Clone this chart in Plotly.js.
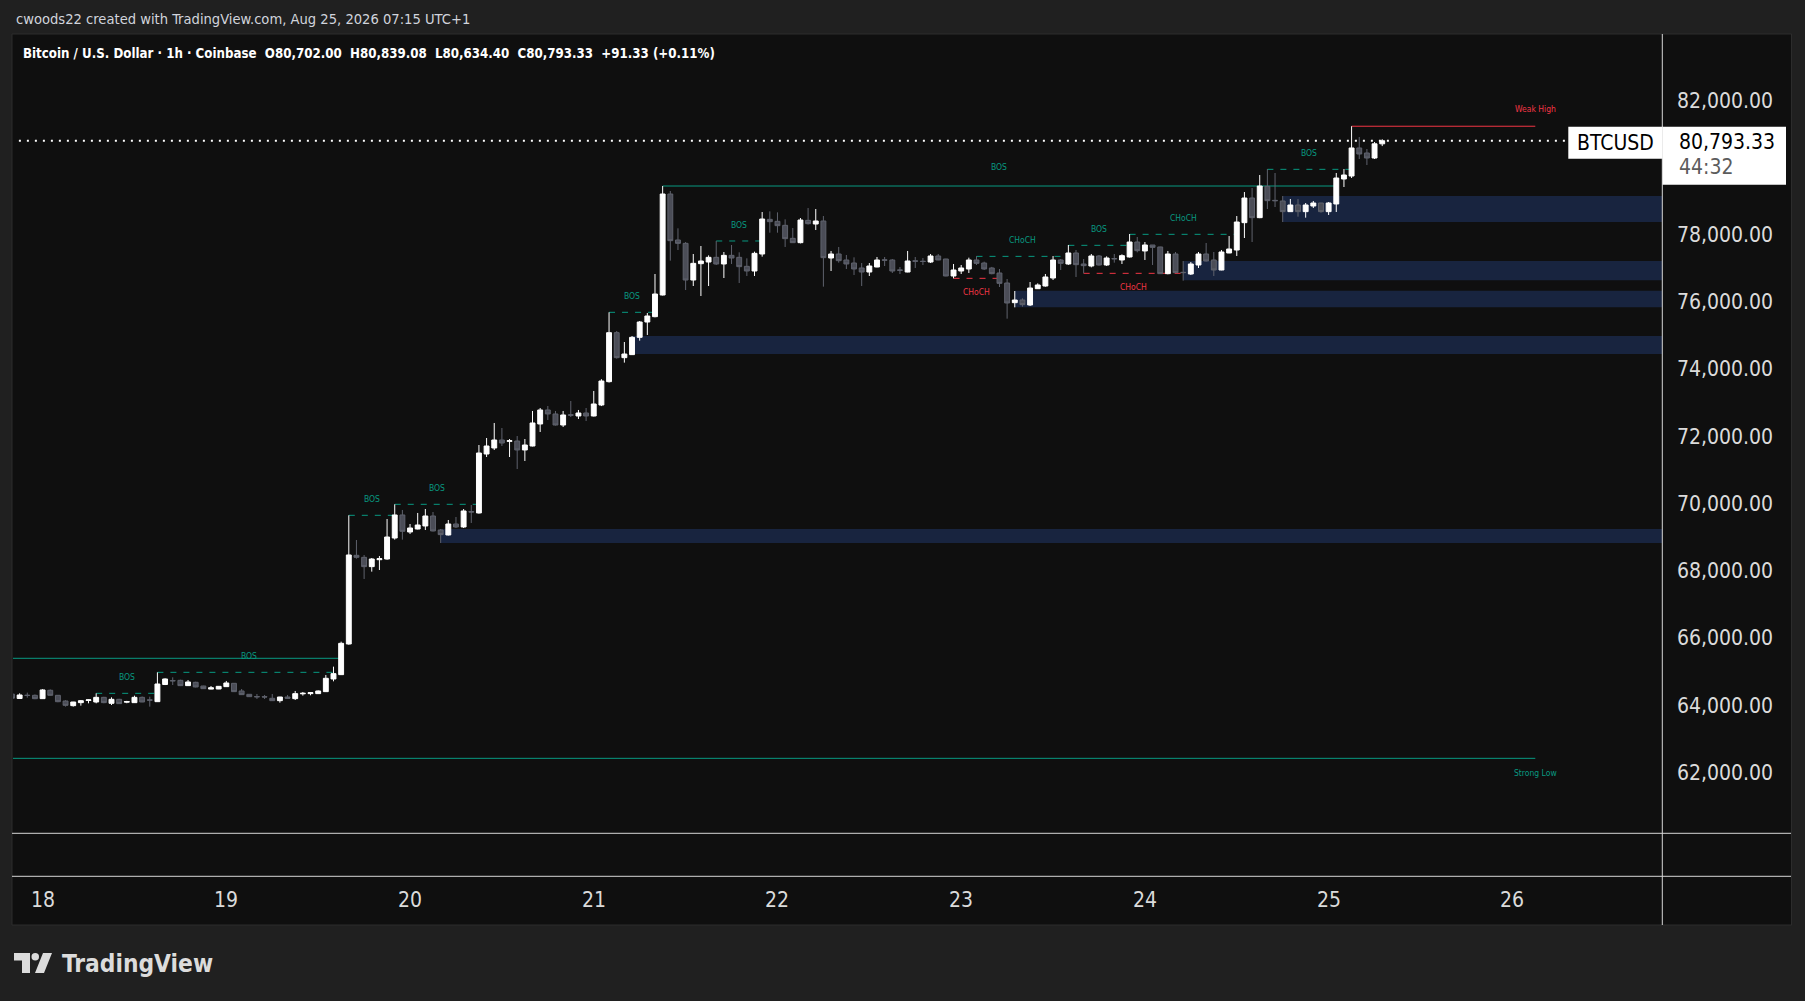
<!DOCTYPE html>
<html><head><meta charset="utf-8">
<script src="https://cdn.plot.ly/plotly-3.0.1.min.js"></script>
<style>html,body{margin:0;padding:0;background:#202020;overflow:hidden}#chart{width:1805px;height:1001px}</style>
</head><body><div id="chart"></div>
<script>
// ---------- DATA ----------
const firstBar = Date.UTC(2026, 7, 17, 20); // first hourly bar, Aug 17 20:00
const open = [
64330,64200,64300,64295,64196,64445,64295,64126,63987,64077,
64140,64096,64235,64057,64176,64090,64077,64235,64160,64106,
64617,64735,64741,64583,64682,64572,64480,64483,64553,64652,
64424,64325,64260,64255,64206,64136,64245,64196,64340,64345,
64345,64404,64781,64910,65822,68460,68400,68123,68330,68350,
68975,69660,69154,69243,69333,69630,69213,69065,69392,69303,
69760,69720,71474,71653,71891,71850,71861,71594,71712,72367,
72784,72665,72337,72640,72605,72694,72605,72932,73626,75084,
74340,74430,74945,75401,75560,76204,79209,77841,77741,76650,
77136,77186,77325,77127,77384,77325,77057,76918,77424,78455,
78396,78277,77890,77761,78425,78316,78406,77305,77424,77246,
77156,77008,76888,77037,77250,77246,76950,76888,77220,77210,
77186,77365,77275,76770,76918,76978,77246,77156,77008,76859,
76561,75976,76055,75907,76392,76472,76710,77246,77127,77454,
77127,77067,77365,77097,77290,77246,77335,77781,77514,77692,
77633,76839,77424,76880,76829,77097,77424,77246,76948,77454,
77543,78356,79090,78505,79437,79020,79001,78684,78882,78684,
78852,78941,78684,78912,79655,79744,80578,80429,80280,80702];
const high = [
64350,64355,64375,64320,64480,64470,64300,64150,64100,64156,
64176,64354,64250,64235,64190,64130,64285,64260,64255,64979,
64800,64830,64760,64751,64700,64580,64572,64570,64722,64660,
64483,64330,64335,64305,64335,64250,64305,64424,64394,64380,
64440,64900,65148,65891,69650,68916,68470,68380,68440,69540,
69977,69809,69392,69720,69838,69749,69243,69511,69600,69838,
69957,71742,71950,72397,72248,71920,72010,71920,72754,72843,
72902,72754,72754,73051,72784,72843,73349,73700,75689,75134,
74806,74985,75431,75669,76829,79447,79298,78188,77780,77424,
77662,77384,77811,77484,77692,77474,77295,77494,78673,78693,
78663,78455,78198,78495,78792,78763,78554,77514,77633,77395,
77325,77156,77156,77335,77335,77275,77037,77514,77335,77305,
77424,77424,77280,77127,77097,77315,77360,77196,77040,76978,
76680,76323,76105,76591,76551,76829,77365,77275,77692,77543,
77275,77424,77394,77355,77424,77414,78019,77930,77781,77692,
77640,77514,77484,77216,77186,77484,77751,77484,77543,77959,
78554,79268,79388,79774,79953,79834,79149,79060,79060,78941,
79001,78945,78971,79834,79953,81225,80905,80548,80756,80839.08];
const low = [
64200,64190,64225,64180,64190,64285,64090,63958,63960,63987,
64057,64057,64060,64007,64040,64060,64070,64090,63958,64100,
64600,64602,64570,64575,64530,64485,64475,64480,64545,64400,
64305,64250,64186,64186,64130,64077,64200,64156,64285,64295,
64340,64395,64711,64900,65800,68360,67756,67974,68023,68330,
68926,68926,69095,69230,69213,69170,68827,69050,69273,69273,
69422,69700,71385,71593,71712,71385,71028,71266,71700,72129,
72486,72320,72278,72575,72516,72456,72590,72900,73600,74310,
74192,74420,74846,75015,75540,76190,77226,77543,76353,76472,
76174,76472,77097,76710,77127,76561,76770,76770,77345,78058,
78058,77633,77761,77740,78300,78138,76452,76918,77166,76978,
76799,76472,76770,77030,77067,76859,76829,76880,77008,77097,
77156,77240,76760,76700,76829,76859,77097,76948,76820,76442,
75500,75837,75857,75877,76383,76452,76650,76948,77100,76740,
76849,77027,77080,77067,77166,77127,77320,77474,77246,77097,
76829,76820,76859,76630,76799,77008,77200,76770,76940,77450,
77365,77900,77781,78490,78763,78822,78376,78680,78535,78505,
78793,78654,78585,78674,79417,79685,80250,80072,80250,80634.40];
const close = [
64210,64305,64290,64195,64455,64295,64105,63997,64096,64136,
64160,64235,64077,64176,64047,64110,64235,64096,64150,64632,
64781,64725,64583,64692,64543,64493,64520,64562,64662,64404,
64315,64255,64250,64245,64136,64245,64206,64345,64355,64374,
64424,64801,64940,65842,68470,68400,68123,68350,68360,69005,
69660,69174,69273,69362,69630,69184,69075,69392,69303,69779,
69749,71504,71712,71891,71801,71870,71594,71742,72397,72784,
72665,72337,72635,72630,72694,72605,72962,73646,75084,74340,
74449,74945,75401,75580,76234,79209,77821,77741,76650,77146,
77216,77325,77127,77384,77305,77047,76918,77444,78465,78386,
78267,77880,77761,78435,78326,78406,77315,77424,77226,77127,
76978,76888,77067,77246,77240,76918,76940,77216,77210,77200,
77365,77246,76770,76948,77008,77246,77146,76978,76839,76551,
75966,76055,75917,76412,76502,76740,77246,77146,77454,77107,
77077,77365,77097,77305,77280,77375,77781,77523,77692,77622,
76839,77424,76869,76870,77127,77424,77216,76948,77484,77573,
78376,79090,78505,79447,79011,79010,78684,78882,78684,78882,
78941,78684,78941,79685,79774,80578,80399,80280,80702,80793.33];

// market-structure lines
const structStart = ['2026-08-17 08:00','2026-08-18 07:00','2026-08-18 15:00','2026-08-19 16:00','2026-08-19 22:00','2026-08-21 02:00','2026-08-21 09:00','2026-08-21 16:00','2026-08-22 23:00','2026-08-23 02:00','2026-08-23 14:00','2026-08-23 16:00','2026-08-23 22:00','2026-08-24 16:00'];
const structEnd   = ['2026-08-19 15:00','2026-08-18 15:00','2026-08-19 15:00','2026-08-19 22:00','2026-08-20 09:00','2026-08-21 08:00','2026-08-25 01:00','2026-08-21 22:00','2026-08-23 05:00','2026-08-23 14:00','2026-08-23 22:00','2026-08-24 05:00','2026-08-24 12:00','2026-08-25 03:00'];
const structLevel = [65396,64354,64979,69650,69977,75689,79447,77811,76700,77354,77682,76849,78009,79943];
const structLabel = ['','BOS','BOS','BOS','BOS','BOS','BOS','BOS','CHoCH','CHoCH','BOS','CHoCH','CHoCH','BOS'];
const structSide  = ['bull','bull','bull','bull','bull','bull','bull','bull','bear','bull','bull','bear','bull','bull'];
const structKind  = ['swing','internal','internal','internal','internal','internal','swing','internal','internal','internal','internal','internal','internal','internal'];

// strong / weak extremes
const extremeLabel = ['Weak High','Strong Low'];
const extremeLevel = [81225, 62420];
const extremeStart = ['2026-08-25 03:00','2026-08-17 08:00'];
const extremeEnd   = ['2026-08-26 03:00','2026-08-26 03:00'];

// order blocks (zones)
const zoneStart = ['2026-08-20 04:00','2026-08-21 05:00','2026-08-23 07:00','2026-08-24 05:00','2026-08-24 18:00'];
const zoneLow   = [68830,74450,75840,76640,78376];
const zoneHigh  = [69240,74985,76330,77216,79149];

// axis ticks
const dayTicks = ['2026-08-18','2026-08-19','2026-08-20','2026-08-21','2026-08-22','2026-08-23','2026-08-24','2026-08-25','2026-08-26'];
const dayLabels = ['18','19','20','21','22','23','24','25','26'];
const priceTicks = [62000,64000,66000,68000,70000,72000,74000,76000,78000,82000];

const symbol = 'BTCUSD';
const countdown = '44:32';
const headerText = 'cwoods22 created with TradingView.com, Aug 25, 2026 07:15 UTC+1';
const titleText = 'Bitcoin / U.S. Dollar · 1h · Coinbase';

// ---------- BUILD ----------
const pad = n => String(n).padStart(2,'0');
const fmtTime = ms => { const d = new Date(ms); return d.getUTCFullYear()+'-'+pad(d.getUTCMonth()+1)+'-'+pad(d.getUTCDate())+' '+pad(d.getUTCHours())+':'+pad(d.getUTCMinutes())+':'+pad(d.getUTCSeconds()); };
const toMs = s => Date.parse(s.replace(' ','T')+(s.length>10?'Z':'T00:00Z'));
const times = open.map((_,i)=>fmtTime(firstBar + i*3600000));
const fmtP = v => v.toLocaleString('en-US',{minimumFractionDigits:2,maximumFractionDigits:2});

const W=1805, H=1001, L=13, R=1662, T=34, B=833;
const px = x => (x-L)/(R-L);
const py = y => (B-y)/(B-T);
const FONT = '"DejaVu Sans Condensed","DejaVu Sans",sans-serif';
const TEAL = '#089981', RED = '#f23645';

const n = close.length;
const last = close[n-1];
const chg = last - close[n-2];

const shapes = [];
const ann = [];

// panel + separators
shapes.push({type:'rect',xref:'paper',yref:'paper',x0:px(12),x1:px(1791.5),y0:py(34),y1:py(925),fillcolor:'#0f0f0f',line:{color:'#2c2c2c',width:1},layer:'below'});
// zones
zoneStart.forEach((s,i)=>shapes.push({type:'rect',xref:'x',yref:'y',x0:s,x1:'2026-08-28',y0:zoneLow[i],y1:zoneHigh[i],fillcolor:'#18243f',line:{width:0},layer:'below'}));
// structure lines + labels
structLevel.forEach((lv,i)=>{
  const col = structSide[i]==='bull'?TEAL:RED;
  shapes.push({type:'line',xref:'x',yref:'y',x0:structStart[i],x1:structEnd[i],y0:lv,y1:lv,line:{color:col,width:1,dash:structKind[i]==='swing'?'solid':'6px,7px'},layer:'below'});
  if (structLabel[i]) {
    const mid = fmtTime((toMs(structStart[i])+toMs(structEnd[i]))/2);
    ann.push({x:mid,y:lv,xref:'x',yref:'y',text:structLabel[i],showarrow:false,xanchor:'center',yanchor:'middle',
      yshift: structSide[i]==='bull' ? (structKind[i]==='swing'?19:16) : -14,
      font:{family:FONT,size:8.5,color:col}});
  }
});
extremeLevel.forEach((lv,i)=>{
  const col = i===0?RED:TEAL;
  shapes.push({type:'line',xref:'x',yref:'y',x0:extremeStart[i],x1:extremeEnd[i],y0:lv,y1:lv,line:{color:col,width:1},layer:'below'});
  ann.push({x:extremeEnd[i],y:lv,xref:'x',yref:'y',text:extremeLabel[i],showarrow:false,xanchor:'center',yanchor:'middle',
    yshift: i===0?17:-14.5, font:{family:FONT,size:8.5,color:col}});
});
// last price dotted line
shapes.push({type:'line',xref:'x',yref:'y',x0:'2026-08-17',x1:'2026-08-28',y0:last,y1:last,line:{color:'#ffffff',width:2,dash:'2px,6px'},layer:'above'});
// frame lines
shapes.push({type:'line',xref:'paper',yref:'paper',x0:px(12),x1:px(1791),y0:py(833.3),y1:py(833.3),line:{color:'#d6d6d6',width:1}});
shapes.push({type:'line',xref:'paper',yref:'paper',x0:px(12),x1:px(1791),y0:py(876.3),y1:py(876.3),line:{color:'#d6d6d6',width:1}});
shapes.push({type:'line',xref:'paper',yref:'paper',x0:px(1662.3),x1:px(1662.3),y0:py(34),y1:py(925),line:{color:'#d6d6d6',width:1}});
// price boxes
shapes.push({type:'rect',xref:'paper',yref:'y',ysizemode:'pixel',yanchor:last,x0:px(1568.3),x1:px(1662.5),y0:-18,y1:14,fillcolor:'#ffffff',line:{width:0},layer:'above'});
shapes.push({type:'rect',xref:'paper',yref:'y',ysizemode:'pixel',yanchor:last,x0:px(1662.5),x1:px(1786),y0:-44,y1:14,fillcolor:'#ffffff',line:{width:0},layer:'above'});
ann.push({x:px(1615.5),xref:'paper',y:last,yref:'y',yshift:-2,text:symbol,showarrow:false,xanchor:'center',yanchor:'middle',font:{family:FONT,size:21,color:'#000000'}});
ann.push({x:px(1677),xref:'paper',y:last,yref:'y',yshift:-1,text:fmtP(last),showarrow:false,xanchor:'left',yanchor:'middle',font:{family:FONT,size:21,color:'#000000'}});
ann.push({x:px(1677),xref:'paper',y:last,yref:'y',yshift:-26.5,text:countdown,showarrow:false,xanchor:'left',yanchor:'middle',font:{family:FONT,size:21,color:'#5c5c5c'}});
// day labels
dayTicks.forEach((d,i)=>ann.push({x:d,xref:'x',y:py(900),yref:'paper',text:dayLabels[i],showarrow:false,xanchor:'center',yanchor:'middle',font:{family:FONT,size:21,color:'#dbdbdb'}}));
// header texts
ann.push({x:px(14),xref:'paper',y:py(18.5),yref:'paper',text:headerText,showarrow:false,xanchor:'left',yanchor:'middle',font:{family:FONT,size:14.6,color:'#d1d4dc'}});
const legend = titleText+'  O'+fmtP(open[n-1])+'  H'+fmtP(high[n-1])+'  L'+fmtP(low[n-1])+'  C'+fmtP(close[n-1])+'  '+(chg>=0?'+':'')+fmtP(chg)+' ('+(chg>=0?'+':'')+(chg/close[n-2]*100).toFixed(2)+'%)';
ann.push({x:px(21),xref:'paper',y:py(53),yref:'paper',text:legend,showarrow:false,xanchor:'left',yanchor:'middle',font:{family:FONT,size:13.2,color:'#ffffff',weight:'bold'}});
// TradingView logo
const lx = x=>px(x), ly = y=>py(y);
shapes.push({type:'path',xref:'paper',yref:'paper',path:`M${lx(14)},${ly(953)} L${lx(30)},${ly(953)} L${lx(30)},${ly(973)} L${lx(22)},${ly(973)} L${lx(22)},${ly(960.5)} L${lx(14)},${ly(960.5)} Z`,fillcolor:'#dcdcdc',line:{width:0}});
shapes.push({type:'circle',xref:'paper',yref:'paper',x0:lx(31.5),x1:lx(39),y0:ly(953),y1:ly(960.5),fillcolor:'#dcdcdc',line:{width:0}});
shapes.push({type:'path',xref:'paper',yref:'paper',path:`M${lx(43)},${ly(953)} L${lx(52)},${ly(953)} L${lx(44)},${ly(973)} L${lx(35)},${ly(973)} Z`,fillcolor:'#dcdcdc',line:{width:0}});
ann.push({x:px(60),xref:'paper',y:py(963),yref:'paper',text:'TradingView',showarrow:false,xanchor:'left',yanchor:'middle',font:{family:FONT,size:24.3,color:'#dcdcdc',weight:'bold'}});

const trace = {type:'candlestick',x:times,open:open,high:high,low:low,close:close,
  increasing:{line:{color:'#ffffff',width:1},fillcolor:'#ffffff'},
  decreasing:{line:{color:'#5f626d',width:1},fillcolor:'#4b4d57'},
  whiskerwidth:0,hoverinfo:'skip',showlegend:false};

const layout = {
  width:W,height:H,margin:{l:L,r:W-R,t:T,b:H-B,pad:0},
  paper_bgcolor:'#202020',plot_bgcolor:'#0f0f0f',
  boxgap:0.2,boxgroupgap:0.2,
  hovermode:false,showlegend:false,
  xaxis:{type:'date',range:['2026-08-17 20:08','2026-08-26 19:33'],showgrid:false,zeroline:false,showline:false,showticklabels:false,ticks:'',rangeslider:{visible:false},fixedrange:true},
  yaxis:{side:'right',range:[60199,83969],showgrid:false,zeroline:false,showline:false,ticks:'',
    tickvals:priceTicks,ticktext:priceTicks.map(fmtP),ticklabelstandoff:14,
    tickfont:{family:FONT,size:21,color:'#dbdbdb'},fixedrange:true},
  shapes:shapes,annotations:ann
};
Plotly.newPlot('chart',[trace],layout,{displayModeBar:false,staticPlot:true});
</script></body></html>
